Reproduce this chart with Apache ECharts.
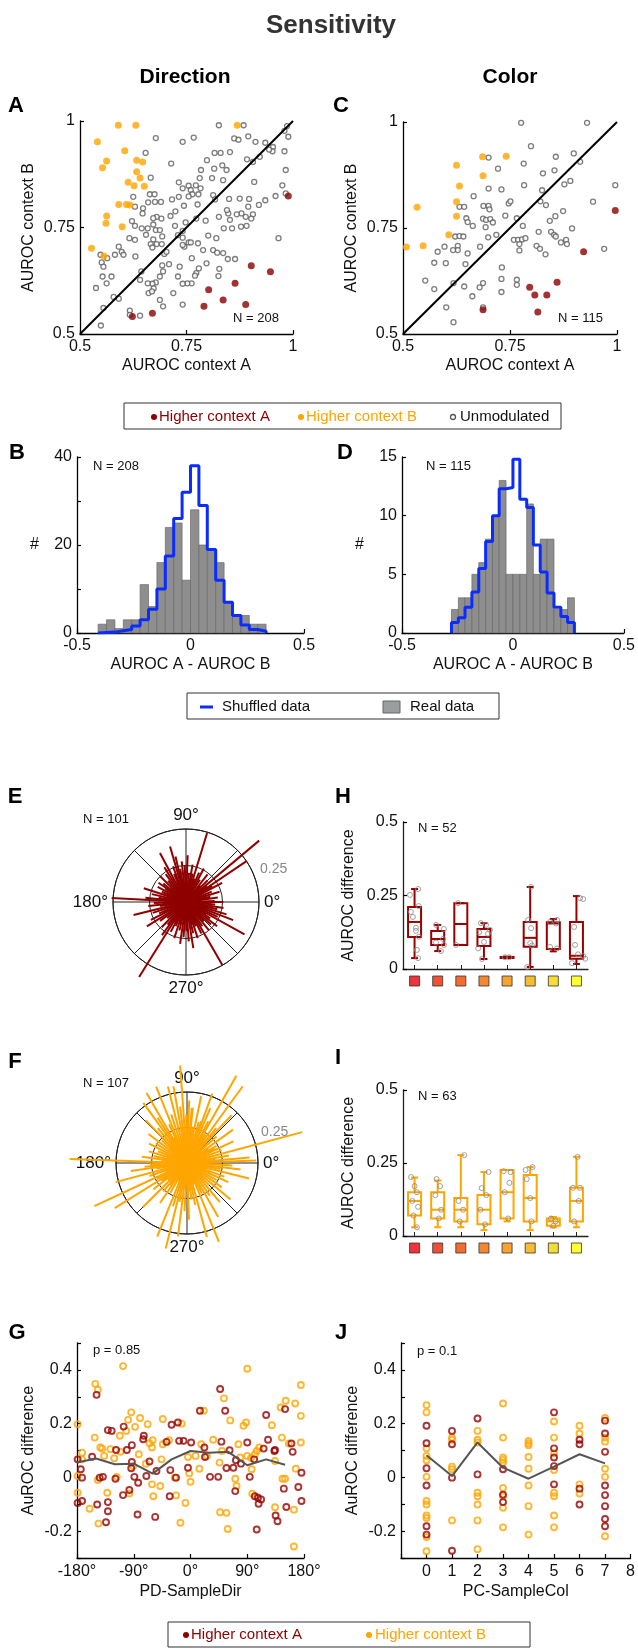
<!DOCTYPE html>
<html><head><meta charset="utf-8">
<script src="https://cdn.jsdelivr.net/npm/echarts@6/dist/echarts.min.js"></script>
<style>html,body{margin:0;padding:0;background:#fff}#c{width:638px;height:1649px}</style>
</head><body><div id="c"></div>
<script>
// ---------------- DATA ----------------
const dirHigherA = [[0.989,0.824],[0.902,0.660],[0.947,0.646],[0.864,0.619],[0.802,0.604],[0.836,0.580],[0.791,0.565],[0.889,0.569],[0.623,0.541],[0.670,0.549]];
const dirHigherB = [[0.590,0.990],[0.631,0.990],[0.869,0.990],[0.541,0.951],[0.605,0.930],[0.5625,0.906],[0.553,0.890],[0.633,0.908],[0.647,0.904],[0.633,0.881],[0.641,0.866],[0.613,0.856],[0.627,0.848],[0.651,0.847],[0.591,0.804],[0.609,0.804],[0.617,0.803],[0.5625,0.777],[0.561,0.760],[0.599,0.752],[0.527,0.701],[0.556,0.683]];
const dirUnmod = [[0.826,0.990],[0.884,0.990],[0.986,0.988],[0.980,0.977],[0.989,0.963],[0.678,0.960],[0.741,0.951],[0.767,0.961],[0.862,0.959],[0.872,0.956],[0.895,0.964],[0.912,0.951],[0.935,0.949],[0.953,0.939],[0.952,0.929],[0.980,0.929],[0.944,0.933],[0.922,0.916],[0.892,0.910],[0.906,0.904],[0.654,0.925],[0.714,0.900],[0.798,0.908],[0.816,0.925],[0.830,0.925],[0.852,0.927],[0.815,0.888],[0.834,0.896],[0.844,0.885],[0.784,0.885],[0.836,0.861],[0.810,0.866],[0.781,0.866],[0.772,0.849],[0.732,0.856],[0.755,0.848],[0.760,0.838],[0.764,0.828],[0.778,0.828],[0.783,0.842],[0.741,0.842],[0.716,0.816],[0.732,0.822],[0.755,0.823],[0.776,0.804],[0.8125,0.826],[0.817,0.816],[0.850,0.817],[0.875,0.818],[0.909,0.857],[0.897,0.817],[0.920,0.803],[0.935,0.814],[0.959,0.824],[0.983,0.830],[0.895,0.799],[0.879,0.783],[0.848,0.783],[0.845,0.791],[0.868,0.781],[0.906,0.781],[0.902,0.771],[0.889,0.775],[0.852,0.768],[0.826,0.775],[0.795,0.766],[0.773,0.771],[0.748,0.762],[0.724,0.788],[0.744,0.801],[0.7125,0.777],[0.691,0.771],[0.680,0.775],[0.672,0.772],[0.625,0.822],[0.629,0.799],[0.648,0.795],[0.660,0.809],[0.664,0.828],[0.666,0.867],[0.675,0.828],[0.690,0.810],[0.676,0.810],[0.647,0.783],[0.645,0.748],[0.622,0.765],[0.629,0.754],[0.629,0.721],[0.616,0.725],[0.659,0.748],[0.672,0.757],[0.678,0.744],[0.6875,0.744],[0.655,0.733],[0.693,0.729],[0.672,0.722],[0.680,0.711],[0.666,0.711],[0.692,0.711],[0.591,0.705],[0.598,0.693],[0.582,0.686],[0.602,0.686],[0.630,0.682],[0.670,0.703],[0.698,0.688],[0.703,0.693],[0.723,0.754],[0.741,0.742],[0.741,0.726],[0.730,0.732],[0.745,0.705],[0.755,0.715],[0.760,0.715],[0.741,0.709],[0.777,0.713],[0.789,0.697],[0.801,0.731],[0.820,0.725],[0.8125,0.697],[0.822,0.691],[0.836,0.690],[0.847,0.676],[0.864,0.676],[0.878,0.752],[0.891,0.754],[0.857,0.748],[0.8375,0.748],[0.797,0.666],[0.779,0.654],[0.7625,0.678],[0.773,0.643],[0.762,0.619],[0.752,0.619],[0.741,0.618],[0.734,0.658],[0.709,0.664],[0.693,0.661],[0.695,0.647],[0.6875,0.635],[0.678,0.621],[0.670,0.618],[0.659,0.619],[0.644,0.647],[0.641,0.627],[0.661,0.596],[0.673,0.607],[0.669,0.600],[0.6875,0.580],[0.719,0.596],[0.741,0.569],[0.730,0.635],[0.770,0.637],[0.827,0.653],[0.825,0.636],[0.551,0.668],[0.555,0.658],[0.548,0.686],[0.564,0.678],[0.5625,0.619],[0.574,0.635],[0.553,0.635],[0.5375,0.608],[0.579,0.587],[0.555,0.561],[0.591,0.583],[0.617,0.555],[0.617,0.545],[0.641,0.543],[0.549,0.520],[0.695,0.565],[0.966,0.725],[0.983,0.885],[0.975,0.849]];

const colHigherA = [[0.996,0.791],[0.922,0.694],[0.860,0.622],[0.796,0.610],[0.808,0.592],[0.836,0.592],[0.687,0.557],[0.815,0.552]];
const colHigherB = [[0.508,0.705],[0.533,0.799],[0.547,0.708],[0.607,0.734],[0.625,0.898],[0.632,0.849],[0.625,0.812],[0.625,0.778],[0.686,0.918],[0.687,0.873],[0.741,0.919]];
const colUnmod = [[0.776,0.998],[0.930,0.998],[0.799,0.943],[0.700,0.916],[0.722,0.890],[0.782,0.902],[0.857,0.918],[0.899,0.926],[0.914,0.906],[0.854,0.886],[0.827,0.879],[0.891,0.861],[0.877,0.853],[0.783,0.851],[0.700,0.843],[0.730,0.841],[0.825,0.839],[0.996,0.851],[0.665,0.825],[0.747,0.808],[0.751,0.813],[0.821,0.813],[0.834,0.804],[0.944,0.812],[0.632,0.800],[0.643,0.800],[0.688,0.802],[0.700,0.802],[0.702,0.794],[0.874,0.790],[0.739,0.779],[0.766,0.773],[0.856,0.778],[0.843,0.767],[0.687,0.772],[0.694,0.769],[0.704,0.771],[0.710,0.763],[0.648,0.773],[0.651,0.764],[0.663,0.755],[0.693,0.752],[0.780,0.755],[0.895,0.749],[0.846,0.741],[0.853,0.734],[0.857,0.730],[0.718,0.734],[0.699,0.728],[0.622,0.730],[0.632,0.731],[0.641,0.730],[0.759,0.722],[0.769,0.722],[0.778,0.723],[0.786,0.726],[0.772,0.712],[0.817,0.741],[0.869,0.716],[0.881,0.722],[0.883,0.712],[0.812,0.708],[0.820,0.701],[0.833,0.688],[0.772,0.697],[0.970,0.701],[0.680,0.706],[0.628,0.708],[0.628,0.698],[0.617,0.698],[0.597,0.706],[0.581,0.694],[0.651,0.690],[0.646,0.665],[0.573,0.668],[0.600,0.667],[0.731,0.657],[0.730,0.630],[0.766,0.628],[0.766,0.616],[0.687,0.620],[0.679,0.610],[0.730,0.599],[0.643,0.612],[0.618,0.620],[0.552,0.626],[0.573,0.606],[0.662,0.589],[0.601,0.563],[0.687,0.563],[0.618,0.528]];
const identityLine = [[0.5,0.5],[1,1]];

// histograms (bin edges and counts)
const dirEdges = [-0.407,-0.37,-0.333,-0.296,-0.259,-0.222,-0.185,-0.148,-0.111,-0.074,-0.037,0,0.037,0.074,0.111,0.148,0.185,0.222,0.259,0.296,0.333];
const dirReal = [2,3,1,3,3,11,6,16,24,25,12,28,20,19,16,7,4,4,2,2];
const dirShuffled = [0.1,0.2,0.5,0.8,1.6,3,5.4,10,17.5,26,32,38,29,19,12,7,4,1.8,0.8,0.4];
const colEdges = [-0.277,-0.246,-0.216,-0.185,-0.154,-0.123,-0.092,-0.062,-0.031,0,0.031,0.062,0.092,0.123,0.154,0.185,0.216,0.246,0.277];
const colReal = [2,3,3,5,6,8,10,13,5,5,5,11,5,8,8,2,2,3];
const colShuffled = [0.9,1.3,2.2,3.5,5.5,7.8,10,12.3,12.4,14.8,11.4,10.7,7.5,5.2,3.4,2.2,1.4,0.9];

// polar: [angle deg, |AUROC difference|]
const eLines = [[40,0.327],[34,0.25],[73,0.247],[106,0.198],[118,0.19],[177,0.255],[162,0.152],[194,0.185],[212,0.158],[331,0.229],[339,0.173],[0,0.128],[238,0.303],[300,0.249],[2,0.098],[28,0.14],[45,0.105],[52,0.12],[58,0.09],[66,0.11],[80,0.13],[84,0.1],[88,0.16],[92,0.125],[96,0.14],[100,0.115],[103,0.16],[110,0.13],[113,0.105],[122,0.14],[126,0.118],[130,0.095],[135,0.125],[141,0.1],[147,0.085],[152,0.11],[157,0.09],[167,0.12],[171,0.095],[174,0.14],[182,0.11],[186,0.13],[189,0.09],[198,0.12],[203,0.1],[207,0.135],[216,0.11],[221,0.085],[226,0.12],[231,0.1],[234,0.14],[243,0.115],[247,0.09],[252,0.13],[257,0.1],[262,0.145],[266,0.12],[271,0.1],[274,0.135],[279,0.16],[283,0.11],[288,0.13],[292,0.09],[296,0.12],[304,0.1],[309,0.125],[313,0.09],[318,0.115],[322,0.135],[326,0.1],[335,0.12],[343,0.145],[347,0.11],[351,0.13],[355,0.1],[8,0.11],[12,0.085],[17,0.12],[22,0.095],[31,0.105],[37,0.09],[48,0.075],[62,0.13],[70,0.085],[77,0.1],[98,0.08],[115,0.075],[139,0.07],[145,0.115],[160,0.07],[185,0.08],[196,0.075],[218,0.07],[240,0.08],[255,0.075],[268,0.07],[285,0.08],[298,0.07],[311,0.075],[329,0.08],[358,0.075]];
const fLines = [[94,0.344],[60.5,0.353],[54,0.334],[15,0.42],[178,0.413],[120,0.285],[126,0.262],[104,0.278],[5,0.221],[346,0.225],[353,0.19],[2,0.244],[85,0.195],[63,0.165],[112,0.29],[100,0.274],[84,0.195],[71,0.155],[205,0.36],[212,0.3],[225,0.22],[248,0.28],[256,0.31],[263,0.26],[272,0.2],[285,0.27],[292,0.3],[300,0.22],[310,0.18],[320,0.2],[335,0.16],[188,0.2],[195,0.26],[185,0.15],[10,0.15],[20,0.13],[25,0.18],[30,0.12],[36,0.2],[42,0.14],[47,0.23],[50,0.16],[57,0.12],[67,0.21],[70,0.26],[74,0.15],[78,0.24],[81,0.13],[88,0.22],[91,0.17],[97,0.2],[108,0.18],[115,0.15],[123,0.19],[130,0.16],[134,0.21],[138,0.12],[143,0.17],[148,0.13],[153,0.15],[158,0.11],[163,0.14],[168,0.12],[172,0.16],[182,0.13],[190,0.11],[199,0.14],[208,0.12],[218,0.15],[230,0.13],[236,0.17],[241,0.12],[252,0.16],[259,0.14],[267,0.17],[277,0.13],[281,0.15],[296,0.12],[305,0.14],[315,0.11],[325,0.15],[330,0.12],[340,0.14],[350,0.12],[357,0.16],[7,0.1],[33,0.09],[64,0.1],[117,0.1],[176,0.09],[222,0.09],[275,0.1],[318,0.08],[12,0.07],[40,0.06],[76,0.08],[102,0.09],[140,0.08],[160,0.07],[200,0.08],[245,0.07],[288,0.08],[344,0.07],[28,0.11],[128,0.1],[215,0.11],[232,0.1]];

// box plots: [min, Q1, median, Q3, max] per preferred color (1..8)
const prefColors = ['#e8000b','#ee2400','#f04800','#f06a00','#f28c00','#f2ac00','#f5d400','#ffff00'];
const prefCats = ['c1','c2','c3','c4','c5','c6','c7','c8'];
const hBoxes = [[0.037,0.109,0.16,0.211,0.272],[0.061,0.082,0.102,0.129,0.15],[0.082,0.082,0.153,0.224,0.224],[0.034,0.078,0.109,0.136,0.156],[0.038,0.039,0.04,0.041,0.042],[0.007,0.076,0.106,0.16,0.279],[0.06,0.068,0.155,0.159,0.17],[0.017,0.035,0.045,0.16,0.248]];
const hPoints = [[0.8,0.252],[1.15,0.272],[1.18,0.214],[0.84,0.194],[0.93,0.177],[1.06,0.14],[1.06,0.13],[1.19,0.11],[1.1,0.065],[1.15,0.037],[1.93,0.15],[2.27,0.136],[2.23,0.102],[2.14,0.061],[2.27,0.082],[1.93,0.09],[2.88,0.224],[2.79,0.082],[3.87,0.156],[4.09,0.15],[4.26,0.133],[3.79,0.125],[4.17,0.12],[4.0,0.092],[3.75,0.07],[3.92,0.034],[4.91,0.04],[5.09,0.04],[6.04,0.279],[5.91,0.167],[6.04,0.139],[6.0,0.088],[6.08,0.08],[5.87,0.007],[7.16,0.167],[6.86,0.16],[7.16,0.07],[6.86,0.075],[7.12,0.155],[8.16,0.241],[8.29,0.238],[7.9,0.143],[7.94,0.082],[8.29,0.044],[7.81,0.02],[8.07,0.05],[8.38,0.035]];
const iBoxes = [[0.03,0.07,0.12,0.15,0.2],[0.03,0.06,0.09,0.15,0.19],[0.03,0.05,0.09,0.13,0.277],[0.02,0.04,0.09,0.14,0.219],[0.05,0.06,0.15,0.226,0.226],[0.02,0.05,0.13,0.209,0.236],[0.03,0.035,0.05,0.06,0.065],[0.03,0.05,0.12,0.165,0.271]];
const iPoints = [[0.85,0.202],[1.0,0.171],[1.1,0.15],[0.9,0.12],[1.15,0.1],[0.95,0.07],[1.1,0.03],[1.95,0.195],[2.1,0.171],[1.9,0.14],[2.15,0.09],[2.05,0.06],[3.15,0.277],[2.9,0.12],[3.1,0.09],[2.95,0.05],[3.9,0.164],[4.2,0.219],[4.1,0.14],[3.85,0.09],[4.05,0.04],[4.85,0.222],[5.15,0.219],[5.1,0.182],[4.9,0.15],[5.05,0.06],[5.8,0.226],[6.1,0.236],[5.85,0.195],[6.0,0.13],[6.05,0.05],[6.9,0.06],[7.1,0.05],[7.0,0.035],[7.85,0.165],[8.15,0.165],[8.1,0.12],[7.9,0.05],[8.05,0.271]];

// G / J: AUROC difference vs preferred - sample
const dirDiffA = [[-179,0.067],[-179,-0.095],[-172,-0.088],[-172,-0.001],[-174,0.03],[-149,0.307],[-156,0.077],[-148,-0.101],[-144,-0.001],[-139,0.002],[-134,-0.167],[-131,-0.126],[-131,-0.092],[-125,0.173],[-131,0.176],[-118,0.102],[-119,-0.005],[-107,-0.066],[-106,0.189],[-101,0.102],[-93,0.12],[-97,-0.047],[-94,0.034],[-89,0.002],[-93,0.057],[-83,-0.02],[-84,-0.138],[-75,0.142],[-74,0.155],[-70,0.005],[-65,0.059],[-56,-0.147],[-54,0.024],[-38,0.132],[-33,-0.07],[-32,0.027],[-30,0.196],[-20,0.204],[-23,-0.001],[-18,0.136],[-11,0.136],[-4,0.036],[1,0.13],[15,0.248],[22,0.111],[23,0.076],[31,0.002],[44,0.002],[49,0.133],[47,0.329],[55,0.248],[57,0.035],[62,0.101],[68,0.036],[71,-0.051],[72,0.064],[80,0.051],[90,0.13],[94,0.002],[101,0.067],[102,-0.07],[107,-0.076],[108,-0.098],[112,-0.082],[116,0.107],[120,0.232],[123,0.14],[133,0.098],[134,0.102],[135,-0.142],[138,-0.163],[150,0.254],[152,-0.11],[148,-0.042],[160,0.126],[162,0.095],[171,-0.036],[176,0.017],[176,-0.088],[105,-0.194]];
const dirDiffB = [[-179,0.198],[-179,0.005],[-179,-0.057],[-172,0.067],[-172,0.092],[-151,0.348],[-147,0.326],[-152,0.148],[-160,-0.117],[-143,0.111],[-140,0.107],[-137,0.08],[-147,-0.01],[-146,-0.172],[-132,-0.057],[-127,0.105],[-112,0.155],[-121,0.071],[-117,0.002],[-111,0.095],[-107,0.414],[-102,0.173],[-99,0.214],[-94,0.242],[-97,-0.06],[-91,0.042],[-88,0.188],[-82,0.086],[-80,0.221],[-71,0.051],[-68,0.198],[-65,0.127],[-61,0.111],[-61,-0.026],[-59,-0.07],[-60,0.138],[-48,-0.032],[-46,0.067],[-44,0.217],[-44,0.123],[-34,0.138],[-25,-0.001],[-23,-0.067],[-14,0.2],[-8,-0.095],[-16,-0.169],[-4,0.076],[0,-0.016],[-2,0.015],[8,0.08],[14,0.032],[21,0.248],[17,0.123],[26,0.08],[36,0.14],[46,0.055],[50,0.098],[53,0.294],[57,-0.132],[47,-0.13],[59,-0.192],[63,0.212],[71,-0.005],[73,-0.032],[76,0.123],[79,0.074],[84,0.192],[88,0.204],[90,0.404],[90,0.08],[96,0.072],[97,0.03],[98,-0.061],[102,0.086],[105,0.098],[109,0.111],[129,0.194],[134,0.061],[134,-0.111],[146,-0.005],[150,-0.005],[145,0.148],[143,0.26],[151,0.285],[156,0.126],[164,-0.12],[164,-0.257],[166,0.275],[167,0.032],[175,0.344],[175,0.229],[175,0.13]];
const dirBins = [-180,-150,-120,-90,-60,-30,0,30,60,90,120,150];
const dirMean = [0.055,0.07,0.049,0.051,0.014,0.067,0.098,0.092,0.095,0.045,0.067,0.047];
const colDiffA = [[0,0.192],[0,0.127],[0,0.034],[0,-0.03],[0,-0.182],[0,-0.213],[1,0.173],[1,0.123],[1,-0.001],[1,-0.273],[2,0.219],[2,0.011],[3,0.03],[3,-0.064],[3,-0.092],[5,0.242],[5,0.108],[5,0.074],[5,0.042],[5,-0.026],[6,0.14],[6,0.123],[6,-0.042],[6,-0.101],[7,0.211],[7,0.163],[7,0.095],[7,-0.03],[7,-0.066],[7,-0.107],[7,-0.155],[7,-0.182]];
const colDiffB = [[0,0.269],[0,0.242],[0,0.108],[0,0.08],[0,0.064],[0,0.002],[0,-0.088],[0,-0.101],[0,-0.142],[0,-0.151],[0,-0.222],[0,-0.275],[1,0.148],[1,0.14],[1,0.04],[1,0.03],[1,-0.16],[2,0.173],[2,0.14],[2,0.13],[2,-0.057],[2,-0.07],[2,-0.101],[2,-0.16],[2,-0.267],[3,0.275],[3,0.148],[3,0.074],[3,0.065],[3,0.055],[3,-0.039],[3,-0.07],[3,-0.113],[3,-0.186],[4,0.136],[4,0.127],[4,0.12],[4,0.076],[4,0.032],[4,-0.03],[4,-0.107],[4,-0.213],[5,0.208],[5,0.148],[5,0.09],[5,0.027],[5,-0.057],[5,-0.07],[5,-0.142],[5,-0.186],[6,0.192],[6,0.163],[6,-0.026],[6,-0.06],[7,0.221],[7,0.148],[7,0.133],[7,0.032],[7,0.002],[7,-0.219]];
const colBins = [0,1,2,3,4,5,6,7];
const colMean = [0.082,0.005,0.13,0.036,-0.005,0.04,0.086,0.052];

// ---------------- STYLE / BUILD ----------------
const FONT = "'Liberation Sans', Arial, Helvetica, sans-serif";
const RED = '#8b0000', ORANGE = '#ffa500', BLUE = '#0a2cff';
const chart = echarts.init(document.getElementById('c'), null, {renderer:'canvas'});

function ax(extra) {
  return Object.assign({
    axisLine:{show:true, onZero:false, lineStyle:{color:'#000', width:1.3}},
    axisTick:{show:true, inside:true, length:4, lineStyle:{color:'#000', width:1.2}},
    axisLabel:{color:'#111', fontSize:16, fontFamily:FONT, margin:5},
    splitLine:{show:false},
    nameTextStyle:{color:'#111', fontSize:16, fontFamily:FONT},
    nameLocation:'middle'
  }, extra);
}
function hidden(extra){ return Object.assign({show:false}, extra); }

const histItem = (edges, counts) => counts.map((c,i)=>[edges[i], edges[i+1], c]);
const stairs = (edges, counts) => {
  const d = [[edges[0], 0]];
  counts.forEach((c,i)=>d.push([edges[i+1], c]));
  d.push([edges[edges.length-1], 0]);
  return d;
};
const histRender = (params, api) => {
  const p0 = api.coord([api.value(0), 0]);
  const p1 = api.coord([api.value(1), api.value(2)]);
  return {type:'rect', shape:{x:p0[0], y:p1[1], width:p1[0]-p0[0], height:p0[1]-p1[1]},
          style:{fill:'#8e8e8e', stroke:'#6a6a6a', lineWidth:0.7}};
};
const polarLine = color => (params, api) => {
  const c = api.coord([0, api.value(1)]);
  const p = api.coord([api.value(0), api.value(1)]);
  return {type:'line', shape:{x1:c[0], y1:c[1], x2:p[0], y2:p[1]}, style:{stroke:color, lineWidth:2}};
};
const toPolar = arr => arr.map(d => [d[1], d[0]]);
// box item: [position, min, q1, median, q3, max]
const boxItems = boxes => boxes.map((b,i)=>[i+1].concat(b));
const boxRender = color => (params, api) => {
  const x = api.value(0);
  const pMin = api.coord([x, api.value(1)]), pQ1 = api.coord([x, api.value(2)]), pMed = api.coord([x, api.value(3)]),
        pQ3 = api.coord([x, api.value(4)]), pMax = api.coord([x, api.value(5)]);
  const cx = pMed[0], hw = 6.5, cw = 3.5;
  const st = {stroke:color, lineWidth:2, fill:null};
  return {type:'group', children:[
    {type:'rect', shape:{x:cx-hw, y:pQ3[1], width:2*hw, height:Math.max(pQ1[1]-pQ3[1],1)}, style:{stroke:color, lineWidth:2, fill:'rgba(0,0,0,0)'}},
    {type:'line', shape:{x1:cx-hw, y1:pMed[1], x2:cx+hw, y2:pMed[1]}, style:st},
    {type:'line', shape:{x1:cx, y1:pQ3[1], x2:cx, y2:pMax[1]}, style:st},
    {type:'line', shape:{x1:cx, y1:pQ1[1], x2:cx, y2:pMin[1]}, style:st},
    {type:'line', shape:{x1:cx-cw, y1:pMax[1], x2:cx+cw, y2:pMax[1]}, style:st},
    {type:'line', shape:{x1:cx-cw, y1:pMin[1], x2:cx+cw, y2:pMin[1]}, style:st}
  ]};
};

const openCircle = (data, color, xi, yi, size) => ({type:'scatter', xAxisIndex:xi, yAxisIndex:yi, data, symbol:'circle', symbolSize:size,
  itemStyle:{color:'rgba(255,255,255,0)', borderColor:color, borderWidth:1.9}, z:3});
const filled = (data, color, xi, yi) => ({type:'scatter', xAxisIndex:xi, yAxisIndex:yi, data, symbol:'circle', symbolSize:7,
  itemStyle:{color, borderWidth:0}, z:4});
const unmod = (data, xi, yi) => ({type:'scatter', xAxisIndex:xi, yAxisIndex:yi, data, symbol:'circle', symbolSize:5,
  itemStyle:{color:'#fff', borderColor:'#5c5c5c', borderWidth:1.3}, z:3});

const T = (text, x, y, opt) => Object.assign({type:'text', x, y, z:100, style:Object.assign({text, fill:'#111', font:'13px '+FONT,
  align:'left', textAlign:'left', verticalAlign:'middle', textVerticalAlign:'middle'}, (opt||{}))});
const TB = (text, x, y, size, color) => T(text, x, y, {font:'bold '+size+'px '+FONT, fill:color||'#000', align:'center', textAlign:'center'});

const option = {
  animation:false,
  backgroundColor:'#fff',
  textStyle:{fontFamily:FONT},
  grid:[
    {left:80, top:121, width:213, height:213},
    {left:403, top:122, width:214, height:212},
    {left:77, top:457, width:227, height:176},
    {left:402, top:457, width:227, height:176},
    {left:403, top:822, width:185, height:147},
    {left:403, top:976, width:185, height:10},
    {left:403, top:1090, width:185, height:146},
    {left:403, top:1243, width:185, height:10},
    {left:77, top:1343, width:227, height:215},
    {left:401, top:1343, width:230, height:215}
  ],
  xAxis:[
    ax({gridIndex:0, type:'value', min:0.5, max:1, interval:0.25, name:'AUROC context A', nameGap:24}),
    ax({gridIndex:1, type:'value', min:0.5, max:1, interval:0.25, name:'AUROC context A', nameGap:24}),
    ax({gridIndex:2, type:'value', min:-0.5, max:0.5, interval:0.5, name:'AUROC A - AUROC B', nameGap:24}),
    ax({gridIndex:3, type:'value', min:-0.5, max:0.5, interval:0.5, name:'AUROC A - AUROC B', nameGap:24}),
    ax({gridIndex:4, type:'category', data:prefCats, axisTick:{show:true, inside:true, alignWithLabel:true, length:4, lineStyle:{color:'#222'}}, axisLabel:{show:false}, axisLine:{lineStyle:{color:'#222', width:1.3}}}),
    hidden({gridIndex:4, type:'value', min:0.5, max:8.5}),
    hidden({gridIndex:5, type:'category', data:prefCats}),
    ax({gridIndex:6, type:'category', data:prefCats, axisTick:{show:true, inside:true, alignWithLabel:true, length:4, lineStyle:{color:'#222'}}, axisLabel:{show:false}, axisLine:{lineStyle:{color:'#222', width:1.3}}}),
    hidden({gridIndex:6, type:'value', min:0.5, max:8.5}),
    hidden({gridIndex:7, type:'category', data:prefCats}),
    ax({gridIndex:8, type:'value', min:-180, max:180, interval:90, name:'PD-SampleDir', nameGap:26, axisLabel:{color:'#111', fontSize:16, fontFamily:FONT, margin:6, formatter:v=>v+'°'}}),
    ax({gridIndex:9, type:'value', min:-1, max:8, interval:1, name:'PC-SampleCol', nameGap:26, axisLabel:{color:'#111', fontSize:16, fontFamily:FONT, margin:6, formatter:v=>v<0?'':String(v)}})
  ],
  yAxis:[
    ax({gridIndex:0, type:'value', min:0.5, max:1, interval:0.25, name:'AUROC context B', nameGap:43}),
    ax({gridIndex:1, type:'value', min:0.5, max:1, interval:0.25, name:'AUROC context B', nameGap:43}),
    ax({gridIndex:2, type:'value', min:0, max:40, interval:10, name:'#', nameGap:38, nameRotate:0, axisLabel:{color:'#111', fontSize:16, fontFamily:FONT, margin:5, formatter:v=>v%20===0?String(v):''}}),
    ax({gridIndex:3, type:'value', min:0, max:15, interval:5, name:'#', nameGap:38, nameRotate:0}),
    ax({gridIndex:4, type:'value', min:0, max:0.5, interval:0.25, name:'AUROC difference', nameGap:46, axisLine:{lineStyle:{color:'#222', width:1.3}}}),
    hidden({gridIndex:5, type:'value', min:0, max:1}),
    ax({gridIndex:6, type:'value', min:0, max:0.5, interval:0.25, name:'AUROC difference', nameGap:46, axisLine:{lineStyle:{color:'#222', width:1.3}}}),
    hidden({gridIndex:7, type:'value', min:0, max:1}),
    ax({gridIndex:8, type:'value', min:-0.3, max:0.5, interval:0.1, name:'AuROC difference', nameGap:40, axisLabel:{color:'#111', fontSize:16, fontFamily:FONT, margin:5, formatter:v=>{const r=Math.round(v*10); return (r%2===0 && r<=4)?String(r/10):'';}}}),
    ax({gridIndex:9, type:'value', min:-0.3, max:0.5, interval:0.1, name:'AuROC difference', nameGap:40, axisLabel:{color:'#111', fontSize:16, fontFamily:FONT, margin:5, formatter:v=>{const r=Math.round(v*10); return (r%2===0 && r<=4)?String(r/10):'';}}})
  ],
  polar:[
    {center:[186,902], radius:73},
    {center:[186,902], radius:146},
    {center:[187,1163], radius:71},
    {center:[187,1163], radius:142}
  ],
  angleAxis:[0,1,2,3].map(i => (i%2===0) ? {
      polarIndex:i, type:'value', min:0, max:360, interval:45, startAngle:0, clockwise:false,
      axisLine:{show:true, lineStyle:{color:'#222', width:1}}, axisTick:{show:false},
      splitLine:{show:true, lineStyle:{color:'#222', width:1}},
      axisLabel:{show:true, margin:5, color:'#111', fontSize:17, fontFamily:FONT, formatter:v=>(v%90===0 && v<360)?v+'°':''}
    } : {polarIndex:i, type:'value', min:0, max:360, startAngle:0, clockwise:false, show:false}),
  radiusAxis:[0,1,2,3].map(i => (i%2===0) ? {
      polarIndex:i, type:'value', min:0, max:0.25, interval:0.125,
      axisLine:{show:false}, axisTick:{show:false}, axisLabel:{show:false},
      splitLine:{show:true, lineStyle:{color:'#222', width:1}}
    } : {polarIndex:i, type:'value', min:0, max:0.5, show:false}),
  series:[
    // A
    unmod(dirUnmod, 0, 0), filled(dirHigherB, ORANGE, 0, 0), filled(dirHigherA, RED, 0, 0),
    {type:'line', xAxisIndex:0, yAxisIndex:0, data:identityLine, symbol:'none', lineStyle:{color:'#000', width:2}, z:5},
    // C
    unmod(colUnmod, 1, 1), filled(colHigherB, ORANGE, 1, 1), filled(colHigherA, RED, 1, 1),
    {type:'line', xAxisIndex:1, yAxisIndex:1, data:identityLine, symbol:'none', lineStyle:{color:'#000', width:2}, z:5},
    // B
    {type:'custom', xAxisIndex:2, yAxisIndex:2, data:histItem(dirEdges, dirReal), renderItem:histRender, z:2},
    {type:'line', xAxisIndex:2, yAxisIndex:2, data:stairs(dirEdges, dirShuffled), step:'start', symbol:'none', lineStyle:{color:BLUE, width:3}, z:6},
    // D
    {type:'custom', xAxisIndex:3, yAxisIndex:3, data:histItem(colEdges, colReal), renderItem:histRender, z:2},
    {type:'line', xAxisIndex:3, yAxisIndex:3, data:stairs(colEdges, colShuffled), step:'start', symbol:'none', lineStyle:{color:BLUE, width:3}, z:6},
    // E, F
    {type:'custom', coordinateSystem:'polar', polarIndex:1, data:toPolar(eLines), renderItem:polarLine('#8f0000'), z:5},
    {type:'custom', coordinateSystem:'polar', polarIndex:3, data:toPolar(fLines), renderItem:polarLine(ORANGE), z:5},
    // H
    {type:'custom', xAxisIndex:5, yAxisIndex:4, data:boxItems(hBoxes), renderItem:boxRender('#9a0000'), z:3},
    {type:'scatter', xAxisIndex:5, yAxisIndex:4, data:hPoints, symbolSize:5, itemStyle:{color:'rgba(255,255,255,0)', borderColor:'#8a8a8a', borderWidth:1}, z:4},
    {type:'scatter', xAxisIndex:6, yAxisIndex:5, data:prefColors.map((c,i)=>({value:[i,0.5], itemStyle:{color:c}})), symbol:'rect', symbolSize:10, itemStyle:{borderColor:'#333', borderWidth:1}},
    // I
    {type:'custom', xAxisIndex:8, yAxisIndex:6, data:boxItems(iBoxes), renderItem:boxRender(ORANGE), z:3},
    {type:'scatter', xAxisIndex:8, yAxisIndex:6, data:iPoints, symbolSize:5, itemStyle:{color:'rgba(255,255,255,0)', borderColor:'#8a8a8a', borderWidth:1}, z:4},
    {type:'scatter', xAxisIndex:9, yAxisIndex:7, data:prefColors.map((c,i)=>({value:[i,0.5], itemStyle:{color:c}})), symbol:'rect', symbolSize:10, itemStyle:{borderColor:'#333', borderWidth:1}},
    // G
    openCircle(dirDiffB, ORANGE, 10, 8, 6), openCircle(dirDiffA, '#990000', 10, 8, 6),
    {type:'line', xAxisIndex:10, yAxisIndex:8, data:dirBins.map((b,i)=>[b, dirMean[i]]), symbol:'none', lineStyle:{color:'#555', width:2}, z:6},
    // J
    openCircle(colDiffB, ORANGE, 11, 9, 6), openCircle(colDiffA, '#990000', 11, 9, 6),
    {type:'line', xAxisIndex:11, yAxisIndex:9, data:colBins.map((b,i)=>[b, colMean[i]]), symbol:'none', lineStyle:{color:'#555', width:2}, z:6}
  ],
  graphic:[
    TB('Sensitivity', 331, 26, 26, '#333'),
    TB('Direction', 185, 77, 21), TB('Color', 510, 77, 21),
    TB('A', 16, 106, 22), TB('C', 341, 106, 22), TB('B', 17, 453, 22), TB('D', 345, 453, 22),
    TB('E', 15, 797, 22), TB('H', 343, 797, 22), TB('F', 15, 1062, 22), TB('I', 338, 1058, 22),
    TB('G', 17, 1333, 22), TB('J', 341, 1333, 22),
    T('N = 208', 233, 318), T('N = 115', 558, 318), T('N = 208', 93, 466), T('N = 115', 426, 466),
    T('N = 101', 83, 819), T('N = 107', 83, 1083), T('N = 52', 418, 828), T('N = 63', 418, 1096),
    T('0.25', 260, 869, {fill:'#888', font:'14px '+FONT}), T('0.25', 261, 1132, {fill:'#888', font:'14px '+FONT}),
    T('p = 0.85', 93, 1350), T('p = 0.1', 417, 1351),
    // legend 1
    {type:'rect', shape:{x:124, y:403, width:437, height:26}, style:{fill:'#fff', stroke:'#333', lineWidth:1}, z:50},
    {type:'circle', shape:{cx:154, cy:417, r:3}, style:{fill:RED}, z:51},
    T('Higher context A', 159, 417, {fill:RED, font:'15px '+FONT}),
    {type:'circle', shape:{cx:301, cy:417, r:3}, style:{fill:ORANGE}, z:51},
    T('Higher context B', 306, 417, {fill:ORANGE, font:'15px '+FONT}),
    {type:'circle', shape:{cx:453, cy:417, r:2.5}, style:{fill:'#fff', stroke:'#555', lineWidth:1.3}, z:51},
    T('Unmodulated', 460, 417, {fill:'#111', font:'15px '+FONT}),
    // legend 2
    {type:'rect', shape:{x:187, y:693, width:312, height:26}, style:{fill:'#fff', stroke:'#333', lineWidth:1}, z:50},
    {type:'line', shape:{x1:200, y1:707, x2:213, y2:707}, style:{stroke:BLUE, lineWidth:3}, z:51},
    T('Shuffled data', 222, 707, {font:'15px '+FONT}),
    {type:'rect', shape:{x:383, y:701, width:17, height:12}, style:{fill:'#9a9e9e', stroke:'#666', lineWidth:1}, z:51},
    T('Real data', 410, 707, {font:'15px '+FONT}),
    // legend 3
    {type:'rect', shape:{x:168, y:1622, width:362, height:25}, style:{fill:'#fff', stroke:'#333', lineWidth:1}, z:50},
    {type:'circle', shape:{cx:186, cy:1635, r:3}, style:{fill:RED}, z:51},
    T('Higher context A', 191, 1635, {fill:RED, font:'15px '+FONT}),
    {type:'circle', shape:{cx:369, cy:1635, r:3}, style:{fill:ORANGE}, z:51},
    T('Higher context B', 375, 1635, {fill:ORANGE, font:'15px '+FONT})
  ]
};
chart.setOption(option);
</script></body></html>
